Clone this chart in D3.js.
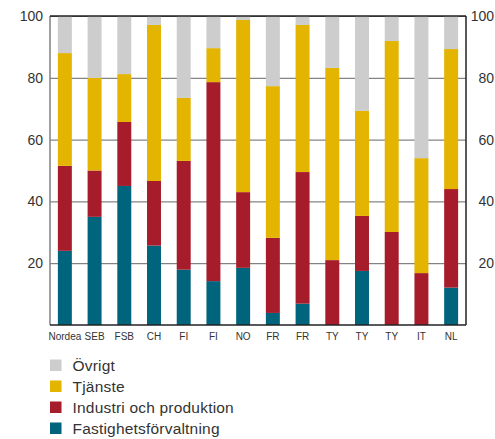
<!DOCTYPE html>
<html>
<head>
<meta charset="utf-8">
<script src="https://cdn.jsdelivr.net/npm/d3@7/dist/d3.min.js"></script>
<style>
  body { margin: 0; background: #fff; }
  svg { display: block; font-family: "Liberation Sans", Arial, sans-serif; }
</style>
</head>
<body>
<div id="chart"></div>
<script>
// Kategorier och andelar (%) per bank
const categories = ['Nordea', 'SEB', 'FSB', 'CH', 'FI', 'FI', 'NO', 'FR', 'FR', 'TY', 'TY', 'TY', 'IT', 'NL'];
const fastighet = [24, 35, 45, 25.7, 17.9, 14.2, 18.5, 3.9, 6.9, 0, 17.5, 0, 0, 12.1];
const industri = [27.5, 15, 20.7, 20.9, 35.2, 64.4, 24.5, 24.3, 42.6, 21, 17.8, 30.1, 16.8, 31.9];
const tjanste = [36.5, 30, 15.5, 50.5, 20.4, 11, 55.7, 49.1, 47.6, 62.2, 34, 61.8, 37.2, 45.3];
const ovrigt = [12, 20, 18.8, 2.9, 26.5, 10.4, 1.3, 22.7, 2.9, 16.8, 30.7, 8.1, 46, 10.7];
const yTicks = [20, 40, 60, 80, 100];

const seriesNames = ['Fastighetsförvaltning', 'Industri och produktion', 'Tjänste', 'Övrigt'];
const colors = {
    'Fastighetsförvaltning': '#00647c',
    'Industri och produktion': '#a61c2b',
    'Tjänste': '#e3b400',
    'Övrigt': '#cdcdcd'
};

const width = 495, height = 439;
const margin = { top: 16, right: 29, bottom: 114, left: 50 };
const innerWidth = width - margin.left - margin.right;
const innerHeight = height - margin.top - margin.bottom;

const rows = categories.map((c, i) => ({
    key: i,
    name: c,
    'Fastighetsförvaltning': fastighet[i],
    'Industri och produktion': industri[i],
    'Tjänste': tjanste[i],
    'Övrigt': ovrigt[i]
}));

const stacked = d3.stack().keys(seriesNames)(rows);

const svg = d3.select('#chart')
    .append('svg')
    .attr('width', width)
    .attr('height', height);

const g = svg.append('g')
    .attr('transform', `translate(${margin.left},${margin.top})`);

const xScale = d3.scaleBand()
    .domain(rows.map(d => d.key))
    .range([0, innerWidth])
    .paddingInner(0.53)
    .paddingOuter(0.265);

const yScale = d3.scaleLinear()
    .domain([0, 100])
    .range([innerHeight, 0]);

// gridlines
g.append('g')
    .attr('class', 'grid')
    .call(d3.axisLeft(yScale).tickValues(yTicks).tickSize(-innerWidth).tickFormat(''))
    .call(a => a.select('.domain').remove())
    .call(a => a.selectAll('line').attr('stroke', '#666').attr('stroke-width', 1));

// staplar
g.selectAll('.layer')
    .data(stacked)
    .join('g')
    .attr('class', 'layer')
    .attr('fill', d => colors[d.key])
    .selectAll('rect')
    .data(d => d)
    .join('rect')
    .attr('x', d => xScale(d.data.key))
    .attr('y', d => yScale(d[1]))
    .attr('width', xScale.bandwidth())
    .attr('height', d => yScale(d[0]) - yScale(d[1]));

// ram
g.append('line')
    .attr('x1', 0).attr('x2', 0).attr('y1', 0).attr('y2', innerHeight)
    .attr('stroke', '#808080').attr('stroke-width', 1.5);
g.append('line')
    .attr('x1', innerWidth).attr('x2', innerWidth).attr('y1', 0).attr('y2', innerHeight)
    .attr('stroke', '#222').attr('stroke-width', 1.5);
g.append('line')
    .attr('x1', 0).attr('x2', innerWidth).attr('y1', 0).attr('y2', 0)
    .attr('stroke', '#222').attr('stroke-width', 1.5);
g.append('line')
    .attr('x1', 0).attr('x2', innerWidth).attr('y1', innerHeight).attr('y2', innerHeight)
    .attr('stroke', '#222').attr('stroke-width', 1.5);

// y-axlar vänster och höger
const leftAxis = g.append('g')
    .call(d3.axisLeft(yScale).tickValues(yTicks).tickSize(0).tickPadding(7));
const rightAxis = g.append('g')
    .attr('transform', `translate(${innerWidth},0)`)
    .call(d3.axisRight(yScale).tickValues(yTicks).tickSize(0).tickPadding(0));
rightAxis.selectAll('text')
    .attr('x', margin.right - 1)
    .attr('text-anchor', 'end');
[leftAxis, rightAxis].forEach(a => {
    a.select('.domain').remove();
    a.selectAll('text')
        .attr('fill', '#333')
        .style('font-size', '14px');
});

// x-axel
g.append('g')
    .attr('transform', `translate(0,${innerHeight})`)
    .call(d3.axisBottom(xScale).tickSize(0).tickPadding(8).tickFormat(i => categories[i]))
    .call(a => a.select('.domain').remove())
    .call(a => a.selectAll('text')
        .attr('fill', '#333')
        .style('font-family', '"Liberation Sans Narrow", "Arial Narrow", "Liberation Sans", sans-serif')
        .style('font-size', '10px'));

// legend
const legendOrder = ['Övrigt', 'Tjänste', 'Industri och produktion', 'Fastighetsförvaltning'];
const legend = svg.append('g')
    .attr('class', 'legend')
    .attr('transform', 'translate(50, 365)');

legendOrder.forEach((name, i) => {
    const row = legend.append('g')
        .attr('transform', `translate(0, ${i * 21})`);
    row.append('rect')
        .attr('x', 0)
        .attr('y', -5.5)
        .attr('width', 11.5)
        .attr('height', 11.5)
        .attr('fill', colors[name]);
    row.append('text')
        .attr('x', 22.5)
        .attr('y', 0)
        .attr('dy', '0.36em')
        .attr('fill', '#333')
        .style('font-size', '15.5px')
        .style('letter-spacing', '0.2px')
        .text(name);
});
</script>
</body>
</html>
